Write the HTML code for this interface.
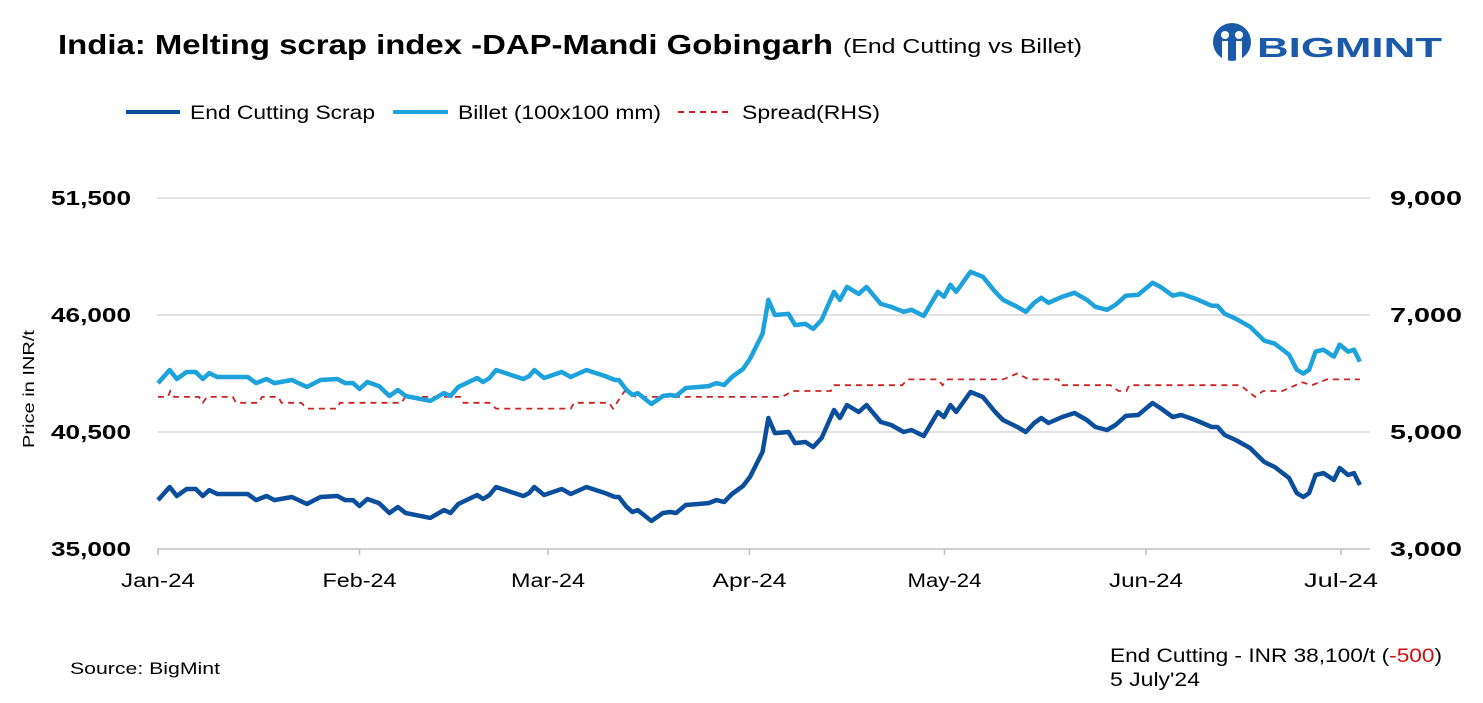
<!DOCTYPE html>
<html><head><meta charset="utf-8">
<style>
body{margin:0;background:#fff;width:1483px;height:703px;overflow:hidden;font-family:"Liberation Sans",sans-serif;}
svg{position:absolute;left:0;top:0}
</style></head>
<body>
<svg id="chart" width="1483" height="703">
  <text x="58" y="54" font-size="28" font-weight="bold" fill="#000" textLength="775" lengthAdjust="spacingAndGlyphs">India: Melting scrap index -DAP-Mandi Gobingarh</text>
  <text x="843" y="53" font-size="20" fill="#000" textLength="239" lengthAdjust="spacingAndGlyphs">(End Cutting vs Billet)</text>
  <g>
    <circle cx="1232" cy="42" r="19" fill="#1a5aa8"/>
    <circle cx="1225" cy="35" r="4" fill="#fff"/><circle cx="1239" cy="35" r="4" fill="#fff"/>
    <rect x="1222" y="41" width="6" height="22" fill="#fff"/><rect x="1236" y="41" width="6" height="22" fill="#fff"/>
    <text x="1257" y="57" font-size="28" font-weight="bold" fill="#1a5aa8" textLength="185" lengthAdjust="spacingAndGlyphs">BIGMINT</text>
  </g>
  <g>
    <g><line x1="126" y1="112" x2="180" y2="112" stroke="#0b4f9c" stroke-width="4"/><text x="190" y="119" font-size="19" textLength="185" lengthAdjust="spacingAndGlyphs">End Cutting Scrap</text></g>
    <g><line x1="393" y1="112" x2="448" y2="112" stroke="#1ea2dc" stroke-width="4"/><text x="458" y="119" font-size="19" textLength="203" lengthAdjust="spacingAndGlyphs">Billet (100x100 mm)</text></g>
    <g><line x1="678" y1="112" x2="732" y2="112" stroke="#cc2222" stroke-width="2" stroke-dasharray="6 5"/><text x="742" y="119" font-size="19" textLength="138" lengthAdjust="spacingAndGlyphs">Spread(RHS)</text></g>
  </g>
  <text transform="translate(34,389) rotate(-90)" text-anchor="middle" font-size="16" textLength="118" lengthAdjust="spacingAndGlyphs">Price in INR/t</text>
  <g id="grid"></g><g id="series"></g><g id="axes"></g>
  <text x="70" y="674" font-size="17" textLength="150" lengthAdjust="spacingAndGlyphs">Source: BigMint</text>
  <text x="1110" y="662" font-size="19" textLength="332" lengthAdjust="spacingAndGlyphs">End Cutting - INR 38,100/t (<tspan fill="#d01010">-500</tspan>)</text>
  <text x="1110" y="686" font-size="19" textLength="90" lengthAdjust="spacingAndGlyphs">5 July'24</text>
</svg>
<script>
const leftTicks=[35000,40500,46000,51500];
const leftTickLabels=["35,000","40,500","46,000","51,500"];
const rightTicks=[3000,5000,7000,9000];
const rightTickLabels=["3,000","5,000","7,000","9,000"];
const monthDays=[0,31,60,91,121,152,182];
const monthLabels=["Jan-24","Feb-24","Mar-24","Apr-24","May-24","Jun-24","Jul-24"];
const scrapDays=[0,1.8,2.9,4.4,5.8,6.9,7.9,9.1,13.8,15.1,16.7,17.9,20.6,22.9,25,27.6,28.8,30,31,32.2,34,35.6,36.9,38.1,41.9,44,45,46.2,49.1,50,51,52,56.2,57.1,57.9,59.4,62.1,63.5,65.9,68.8,70.3,70.9,72.1,73,73.8,75.9,77.7,78.8,79.7,81.2,84.7,85.9,87.1,88.3,90,91.1,93,93.9,94.9,97,98,99.6,100.8,102.1,104,104.9,106,107.8,109,111.2,112.8,114.7,115.9,117.8,120,120.9,121.9,122.8,125,126.9,128.8,130,132.2,133.5,134.8,135.9,137,139.1,141,142.9,144.2,146,147.3,148.9,150.8,153,154.2,156.1,157.4,159.6,162.1,163,164.1,165.8,168,170.2,171.8,174,175.2,176.2,177.1,178.1,179.3,180.9,181.8,183.1,184,184.9];
const scrapValues=[37300,37915,37490,37820,37820,37490,37770,37585,37585,37300,37490,37300,37445,37115,37445,37490,37300,37300,37020,37350,37160,36690,36975,36690,36460,36830,36690,37115,37540,37350,37540,37915,37490,37630,37915,37540,37820,37585,37915,37630,37445,37445,36975,36740,36830,36315,36690,36740,36690,37070,37160,37300,37210,37585,37960,38400,39560,41160,40450,40500,39980,40030,39795,40220,41535,41160,41770,41440,41770,40970,40830,40500,40595,40310,41440,41205,41770,41440,42380,42145,41440,41065,40735,40500,40925,41160,40925,41205,41395,41065,40735,40595,40830,41255,41300,41865,41630,41205,41300,41065,40735,40735,40360,40125,39750,39090,38855,38340,37630,37445,37630,38480,38570,38245,38810,38480,38570,38010];
const billetValues=[42800,43415,42990,43320,43320,42990,43270,43085,43085,42800,42990,42800,42945,42615,42945,42990,42800,42800,42520,42850,42660,42190,42475,42190,41960,42330,42190,42615,43040,42850,43040,43415,42990,43130,43415,43040,43320,43085,43415,43130,42945,42945,42475,42240,42330,41815,42190,42240,42190,42570,42660,42800,42710,43085,43460,43950,45110,46710,46000,46050,45530,45580,45345,45770,47085,46710,47320,46990,47320,46520,46380,46150,46245,45960,47090,46855,47420,47090,48030,47795,47090,46715,46385,46150,46575,46810,46575,46855,47045,46715,46385,46245,46480,46905,46950,47515,47330,46905,47000,46765,46435,46435,46060,45825,45450,44790,44655,44140,43430,43245,43430,44280,44370,44045,44610,44280,44370,43810];
const spreadDays=[0,1.5,1.9,2.5,6.3,6.9,7.5,11.5,12,15.5,16,18.5,19,22,23,27.5,28,37.5,38,46.5,47,51,52,63.5,64,69.4,70,71.8,73.5,75.5,76,96,97.7,103.5,104,114.5,115.3,120,120.7,121.5,130,132.2,134,138.5,139,146.5,147.8,149,149.4,165.6,166.5,168.8,170,173,176,177.5,179.8,184.9];
const spreadValues=[5600,5600,5700,5600,5600,5500,5600,5600,5500,5500,5600,5600,5500,5500,5400,5400,5500,5500,5600,5600,5500,5500,5400,5400,5500,5500,5400,5700,5600,5600,5600,5600,5700,5700,5800,5800,5900,5900,5800,5900,5900,6000,5900,5900,5800,5800,5700,5700,5800,5800,5800,5600,5700,5700,5850,5800,5900,5900];

const NS="http://www.w3.org/2000/svg";
const X0=158,PX_PER_DAY=6.5,YB=549,YT=198,PL=157,PR=1370;
const xs=d=>X0+d*PX_PER_DAY;
const yl=v=>YB-(v-35000)/(51500-35000)*(YB-YT);
const yr=v=>YB-(v-3000)/(9000-3000)*(YB-YT);
function mk(tag,attrs,parent){const e=document.createElementNS(NS,tag);for(const k in attrs)e.setAttribute(k,attrs[k]);parent.appendChild(e);return e;}
const grid=document.getElementById('grid'),series=document.getElementById('series'),axes=document.getElementById('axes');
leftTicks.forEach((t,i)=>{
  if(i>0){const g=mk('line',{x1:PL,x2:PR,y1:yl(t),y2:yl(t),stroke:'#d9d9d9','stroke-width':1.5},grid);
  
  }
  const tl=mk('text',{x:131,y:yl(t)+7,'text-anchor':'end','font-size':20,'font-weight':'bold',textLength:80,lengthAdjust:'spacingAndGlyphs'},axes);tl.textContent=leftTickLabels[i];
  
  
});
rightTicks.forEach((t,i)=>{
  const tr=mk('text',{x:1390,y:yr(t)+7,'font-size':20,'font-weight':'bold',textLength:72,lengthAdjust:'spacingAndGlyphs'},axes);tr.textContent=rightTickLabels[i];
  
  
});
const base=mk('line',{x1:PL,x2:PR,y1:YB,y2:YB,stroke:'#bfbfbf','stroke-width':1.5},axes);


monthDays.forEach((d,i)=>{
  mk('line',{x1:xs(d),x2:xs(d),y1:YB,y2:YB+6,stroke:'#bfbfbf','stroke-width':1.5},axes);
  const t=mk('text',{x:xs(d),y:587,'text-anchor':'middle','font-size':19,textLength:74,lengthAdjust:'spacingAndGlyphs'},axes);t.textContent=monthLabels[i];
  
  
});
function path(days,vals,yf){return days.map((d,i)=>(i?'L':'M')+xs(d).toFixed(1)+','+yf(vals[i]).toFixed(1)).join(' ');}
const sp=mk('path',{d:path(spreadDays,spreadValues,yr),fill:'none',stroke:'#cc2222','stroke-width':1.8,'stroke-dasharray':'6 5'},series);


const bl=mk('path',{d:path(scrapDays,billetValues,yl),fill:'none',stroke:'#1ea2dc','stroke-width':4.5,'stroke-linejoin':'round'},series);


const sc=mk('path',{d:path(scrapDays,scrapValues,yl),fill:'none',stroke:'#0b4f9c','stroke-width':4.5,'stroke-linejoin':'round'},series);


</script>
</body></html>
